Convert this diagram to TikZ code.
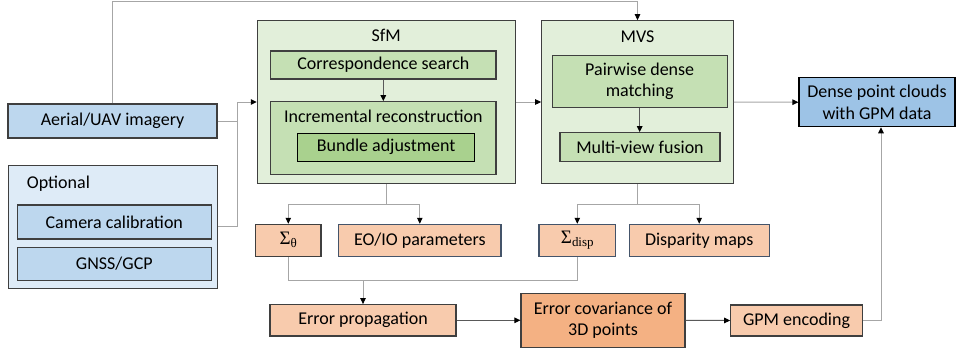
\documentclass[tikz,border=0pt]{standalone}
\usepackage{fontspec}
\setmainfont{Carlito}
\newfontfamily\symfont{Liberation Serif}
\usetikzlibrary{arrows.meta}

\definecolor{boxline}{HTML}{3F3F3F}
\definecolor{bluebd}{HTML}{44546A}
\definecolor{bluelt}{HTML}{BDD7EE}
\definecolor{bluepale}{HTML}{DEEBF7}
\definecolor{bluemid}{HTML}{9DC3E6}
\definecolor{greenpale}{HTML}{E2EFDA}
\definecolor{greenlt}{HTML}{C5E0B4}
\definecolor{greenmid}{HTML}{A9D18E}
\definecolor{orlt}{HTML}{F8CBAD}
\definecolor{ormid}{HTML}{F4B183}
\definecolor{lineg}{HTML}{A6A6A6}
\definecolor{lined}{HTML}{595959}

\tikzset{
  txt/.style={inner sep=0pt, font=\fontsize{18}{21.5}\selectfont, align=center},
  box/.style={txt, draw=boxline, line width=1.1pt},
  sz/.style 2 args={minimum width=#1pt, minimum height=#2pt},
  conn/.style={draw=lineg, line width=1pt},
  arr/.style={conn, -{Triangle[length=6pt, width=5.5pt, color=black]}},
  darkline/.style={draw=lined},
}

\newcommand{\sigmasub}[1]{{\symfont\fontsize{19}{21}\selectfont Σ\raisebox{-0.35ex}{\fontsize{13}{13}\selectfont #1}}}

\begin{document}
\begin{tikzpicture}[x=1pt, y=-1pt]
\useasboundingbox (0,0) rectangle (956,354);

% inputs
\node[box, fill=bluelt, sz={209}{34}] (aer) at (112.5,121) {Aerial/UAV imagery};
\node[box, fill=bluepale, sz={209}{123}] (opt) at (112.7,226.7) {};
\node[txt, anchor=west] (optt) at (26.7,183.3) {Optional};
\node[box, fill=bluelt, sz={194}{34}] (cam) at (114.3,222) {Camera calibration};
\node[box, fill=bluelt, sz={194}{33.4}] (gnss) at (114.3,264) {GNSS/GCP};

% structure from motion
\node[box, fill=greenpale, sz={258}{162.6}] (sfm) at (386.3,102) {};
\node[txt] (sfmt) at (386.3,35) {SfM};
\node[box, fill=greenlt, sz={225.3}{28}] (corr) at (383.3,65) {Correspondence search};
\node[box, fill=greenlt, sz={225.3}{72.6}] (incr) at (383.3,138) {};
\node[txt] (incrt) at (383.3,116.7) {Incremental reconstruction};
\node[box, draw=black, fill=greenmid, sz={177}{27.7}] (ba) at (386.2,147.2) {Bundle adjustment};

% multi-view stereo
\node[box, fill=greenpale, sz={191.6}{162.6}] (mvs) at (637.5,102) {};
\node[txt] (mvst) at (637.5,36.7) {MVS};
\node[box, fill=greenlt, sz={175.3}{52.3}] (pair) at (639.7,81.2) {Pairwise dense\\matching};
\node[box, fill=greenlt, sz={160}{29}] (mvf) at (640,147.2) {Multi-view fusion};

% output
\node[box, draw=black, fill=bluemid, sz={156}{49}] (dense) at (877,102.2) {Dense point clouds\\with GPM data};

% intermediate products
\node[box, fill=orlt, sz={65.3}{32}] (sth) at (288.3,240.3) {\sigmasub{θ}};
\node[box, draw=bluebd, fill=orlt, sz={162.3}{32}] (eo) at (419.8,240.3) {EO/IO parameters};
\node[box, draw=bluebd, fill=orlt, sz={76.7}{32}] (sdisp) at (577.3,240.3) {\sigmasub{disp}};
\node[box, draw=bluebd, fill=orlt, sz={140.3}{32}] (disp) at (699.2,240.3) {Disparity maps};
\node[box, fill=orlt, sz={186}{31.3}] (ep) at (363,320.3) {Error propagation};
\node[box, fill=ormid, sz={164}{54}] (ec) at (603,320.3) {Error covariance of\\3D points};
\node[box, fill=orlt, sz={131.6}{31}] (gpm) at (796.5,320.5) {GPM encoding};

% helper coordinates
\coordinate (topy) at (0,1);
\coordinate (jx) at (237,0);
\coordinate (my) at (0,280);
\path (sfm.south) ++(0,20.3) coordinate (ssp);
\path (mvs.south) ++(0,20.3) coordinate (msp);

% connectors
\draw[arr] (aer.north) -- (aer.north |- topy) -| (mvs.north);
\draw[conn] (aer.east) -- (aer.east -| jx);
\draw[conn] (opt.east) -- (opt.east -| jx);
\draw[arr] (opt.east -| jx) |- (sfm.west);
\draw[arr, darkline] (corr.south) -- (incr.north);
\draw[arr] (sfm.east) -- (mvs.west);
\draw[arr] (mvs.east) -- (dense.west);
\draw[arr, darkline] (pair.south) -- (pair.south |- mvf.north);

\draw[conn] (sfm.south) -- (ssp);
\draw[arr] (ssp) -| (sth.north);
\draw[arr] (ssp) -| (eo.north);
\draw[conn] (mvs.south) -- (msp);
\draw[arr] (msp) -| (sdisp.north);
\draw[arr] (msp) -| (disp.north);

\draw[conn] (sth.south) -- (sth.south |- my) -- (sdisp.south |- my) -- (sdisp.south);
\draw[arr] (ep.north |- my) -- (ep.north);
\draw[arr, darkline] (ep.east) -- (ec.west);
\draw[arr, darkline] (ec.east) -- (gpm.west);
\draw[arr] (gpm.east) -| ([xshift=4pt]dense.south);
\end{tikzpicture}
\end{document}
